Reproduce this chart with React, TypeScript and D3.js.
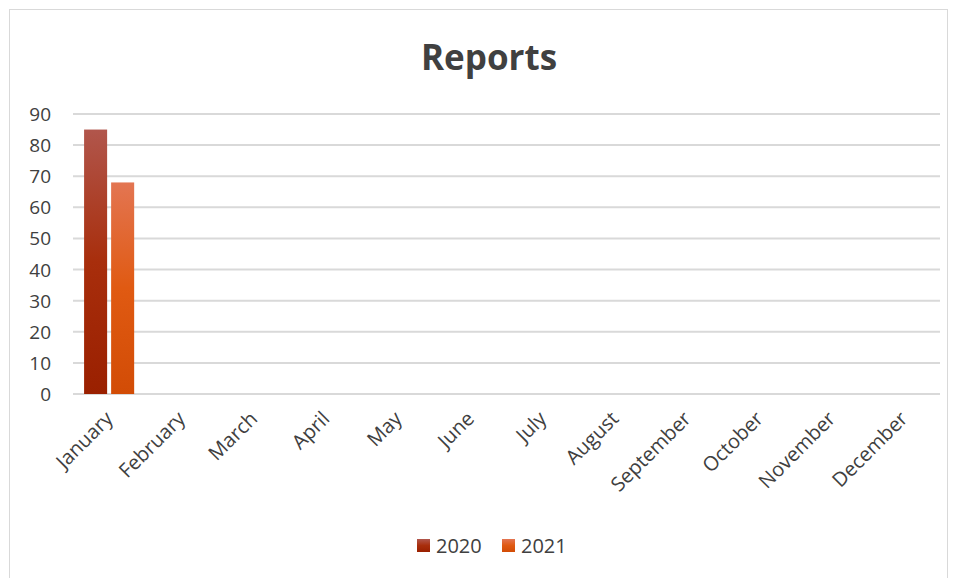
import React from "react";
import * as d3 from "d3";

const months = ["January","February","March","April","May","June","July","August","September","October","November","December"];
const series2020: (number | null)[] = [85, null, null, null, null, null, null, null, null, null, null, null];
const series2021: (number | null)[] = [68, null, null, null, null, null, null, null, null, null, null, null];
const seriesNames = ["2020", "2021"];
const yTicks = [0, 10, 20, 30, 40, 50, 60, 70, 80, 90];

const W = 956, H = 578;
const margin = { left: 73, right: 16 };
const font = "'Open Sans', 'Noto Sans', sans-serif";

export default function App() {
  const x = d3.scaleBand<string>().domain(months).range([margin.left, W - margin.right]);
  const y = d3.scaleLinear().domain([0, 90]).range([394, 114]);
  const inner = d3.scaleBand<string>().domain(seriesNames).range([0, x.bandwidth()]).paddingInner(0.148).paddingOuter(0.41);
  const data = [series2020, series2021];
  const grads = ["g2020", "g2021"];
  return (
    <svg width={W} height={H} style={{ position: "absolute", left: 0, top: 0, fontFamily: font }}>
      <defs>
        <linearGradient id="g2020" x1="0" y1="0" x2="0" y2="1">
          <stop offset="0" stopColor="#B1564C" />
          <stop offset="0.5" stopColor="#A82E0C" />
          <stop offset="1" stopColor="#9A2000" />
        </linearGradient>
        <linearGradient id="g2021" x1="0" y1="0" x2="0" y2="1">
          <stop offset="0" stopColor="#E37552" />
          <stop offset="0.5" stopColor="#E05A12" />
          <stop offset="1" stopColor="#D24C06" />
        </linearGradient>
      </defs>
      <rect x={0} y={0} width={W} height={H} fill="#fff" />
      <rect x={9.5} y={9.5} width={938} height={600} fill="#fff" stroke="#d9d9d9" strokeWidth={1} />
      <text x={489} y={70} textAnchor="middle" fontSize={35} fontWeight="bold" fill="#404040">Reports</text>
      {yTicks.map(t => (
        <g key={t}>
          <line x1={margin.left} x2={W - margin.right} y1={y(t)} y2={y(t)} stroke="#d9d9d9" strokeWidth={2} />
          <text x={51} y={y(t) + 7} textAnchor="end" fontSize={19} fill="#404040">{t}</text>
        </g>
      ))}
      {data.map((s, si) => s.map((v, i) => v == null ? null : (
        <rect key={si + "-" + i}
          x={(x(months[i]) as number) + (inner(seriesNames[si]) as number)}
          width={inner.bandwidth()}
          y={y(v)} height={y(0) - y(v)} fill={`url(#${grads[si]})`} />
      )))}
      {months.map(m => {
        const cx = (x(m) as number) + x.bandwidth() / 2 + 5;
        return (
          <text key={m} transform={`translate(${cx},${420}) rotate(-45)`} textAnchor="end" fontSize={20} fill="#404040">{m}</text>
        );
      })}
      {seriesNames.map((n, i) => {
        const lx = 417 + i * 85;
        return (
          <g key={n}>
            <rect x={lx} y={539} width={13} height={13} fill={`url(#${grads[i]})`} />
            <text x={lx + 19} y={553} fontSize={20} fill="#404040">{n}</text>
          </g>
        );
      })}
    </svg>
  );
}
